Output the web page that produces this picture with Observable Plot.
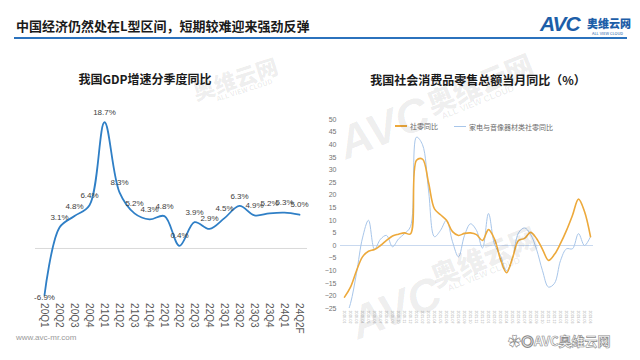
<!DOCTYPE html>
<html><head><meta charset="utf-8">
<script src="https://cdn.jsdelivr.net/npm/d3@7"></script>
<script src="https://cdn.jsdelivr.net/npm/@observablehq/plot@0.6"></script>
<style>
body{margin:0;background:#fff;font-family:"Noto Sans CJK SC","Noto Sans",sans-serif;}
#page{position:relative;width:640px;height:360px;overflow:hidden;background:#fff;}
.abs{position:absolute;white-space:nowrap;}
.wm{position:absolute;white-space:nowrap;color:rgba(0,0,0,0.075);font-weight:900;transform-origin:left top;pointer-events:none;}
</style></head><body><div id="page">
<div class="abs" style="left:16px;top:16px;font-size:13px;font-weight:700;color:#1a1a1a;">中国经济仍然处在L型区间，短期较难迎来强劲反弹</div>
<div class="abs" style="left:14px;top:37px;width:613px;height:2px;background:#2b72bd;"></div>
<div class="abs" style="left:540px;top:12px;font-family:'Liberation Sans',sans-serif;font-size:21px;font-weight:900;font-style:italic;color:#1d5ea8;letter-spacing:-1px;">AVC</div>
<div class="abs" style="left:587px;top:15px;font-size:11px;font-weight:900;color:#1d5ea8;">奥维云网</div>
<div class="abs" style="left:592px;top:30px;font-size:4px;color:#1d5ea8;">ALL VIEW CLOUD</div>

<div class="abs" style="left:0;top:70px;width:290px;text-align:center;font-size:12px;font-weight:700;color:#1a1a1a;">我国GDP增速分季度同比</div>
<div class="abs" style="left:320px;top:71px;width:316px;text-align:center;font-size:12px;font-weight:700;color:#1a1a1a;">我国社会消费品零售总额当月同比（%）</div>

<div class="abs" id="c1" style="left:0;top:95px;"></div>
<div class="abs" id="c2" style="left:320px;top:95px;"></div>

<div class="abs" id="legend" style="left:395px;top:119px;font-size:7px;color:#6b6b6b;"></div>

<div class="abs" style="left:16px;top:333px;font-size:8px;color:#9a9a9a;font-family:'Liberation Sans',sans-serif;">www.avc-mr.com</div>
<div class="abs" style="left:508px;top:331px;font-size:13px;color:#fff;-webkit-text-stroke:0.6px #8a8a8a;font-weight:700;">✿◎AVC奥维云网</div>

<div class="wm" style="left:188px;top:76px;transform:rotate(-18deg);font-size:22px;">奥维云网</div>
<div class="wm" style="left:215px;top:94px;transform:rotate(-18deg);font-size:7px;">ALL VIEW CLOUD</div>
<div class="wm" style="left:330px;top:120px;transform:rotate(-22deg);font-size:46px;font-family:'Liberation Sans',sans-serif;font-style:italic;">AVC</div>
<div class="wm" style="left:420px;top:85px;transform:rotate(-22deg);font-size:28px;">奥维云网</div>
<div class="wm" style="left:440px;top:112px;transform:rotate(-22deg);font-size:9px;font-family:'Liberation Sans',sans-serif;">ALL VIEW CLOUD</div>
<div class="wm" style="left:342px;top:300px;transform:rotate(-22deg);font-size:46px;font-family:'Liberation Sans',sans-serif;font-style:italic;">AVC</div>
<div class="wm" style="left:424px;top:258px;transform:rotate(-22deg);font-size:28px;">奥维云网</div>
<div class="wm" style="left:446px;top:284px;transform:rotate(-22deg);font-size:9px;font-family:'Liberation Sans',sans-serif;">ALL VIEW CLOUD</div>
</div>
<script>
// ---- GDP quarterly YoY ----
const gdpQuarters = ["20Q1","20Q2","20Q3","20Q4","21Q1","21Q2","21Q3","21Q4","22Q1","22Q2","22Q3","22Q4","23Q1","23Q2","23Q3","23Q4","24Q1","24Q2F"];
const gdpGrowth = [-6.9,3.1,4.8,6.4,18.7,8.3,5.2,4.3,4.8,0.4,3.9,2.9,4.5,6.3,4.9,5.2,5.3,5.0];

// ---- Retail sales monthly YoY ----
const months = [];
for (const yr of [2020, 2021, 2022, 2023]) for (let m = 1; m <= 12; m++) { if (yr === 2023 && m > 6) break; months.push(`${yr}-${String(m).padStart(2,"0")}`); }
const retailYoY = [-20.5,-16.5,-10,-4.5,-2.3,-1.6,0,2,3.8,4.5,5.0,4.6,
  33.8,34.3,25,14.5,12.2,10,5.5,4,4.8,5,4.3,2,
  6.3,2.5,-5.5,-10.8,-5,2,2.8,5.2,2.8,-1.5,-5.9,-3.5,
  0.8,6,12,18.4,13.5,3.5];
const applianceYoY = [-30,-23,-11,3,10,-1.5,2.5,4,-0.5,2.6,4.7,7.5,
  43,40,22,3.5,6,10,1.5,-4.5,4,8.6,6,-1,
  12.7,0.5,-4,-10,-5,5,7,4.5,-1.5,-10,-16.5,-15,
  -6,-1.3,-1.3,4.7,0,3.5];
const yTicks = [50,45,40,35,30,25,20,15,10,5,0,-5,-10,-15,-20,-25];
const seriesNames = ["社零同比","家电与音像器材类社零同比"];
const seriesColors = ["#eda93b","#a8c6ea"];

const gdp = gdpQuarters.map((q,i)=>({q, v: gdpGrowth[i]}));
const fontNum = "'Liberation Sans','Noto Sans CJK SC',sans-serif";

const c1 = Plot.plot({
  width: 320, height: 250,
  marginLeft: 35, marginRight: 13, marginTop: 18, marginBottom: 46.4,
  style: {fontFamily: fontNum, color: "#595959", background: "transparent", overflow: "visible"},
  x: {type: "point", domain: gdpQuarters, padding: 0.5, label: null, tickRotate: 90, tickSize: 0, tickPadding: 4, fontSize: 8},
  y: {domain: [-7.5, 20], axis: null},
  marks: [
    Plot.ruleY([0], {stroke: "#d9d9d9"}),
    Plot.line(gdp, {x: "q", y: "v", stroke: "#2f7fc6", strokeWidth: 1.8, curve: "catmull-rom"}),
    Plot.text(gdp.filter(d => d.v >= 0), {x: "q", y: "v", text: d => d.v.toFixed(1) + "%", dy: -10, fontSize: 8, fill: "#404040"}),
    Plot.text(gdp.filter(d => d.v < 0), {x: "q", y: "v", text: d => d.v.toFixed(1) + "%", dy: 2, fontSize: 8, fill: "#404040"})
  ]
});
document.getElementById("c1").append(c1);

const rows = [];
months.forEach((m,i)=>{ rows.push({m, v: retailYoY[i], s: seriesNames[0]}); rows.push({m, v: applianceYoY[i], s: seriesNames[1]}); });

const c2 = Plot.plot({
  width: 320, height: 250,
  marginLeft: 20, marginRight: 47, marginTop: 24, marginBottom: 37,
  style: {fontFamily: fontNum, color: "#666", background: "transparent", overflow: "visible"},
  x: {type: "point", domain: months, padding: 0.5, label: null},
  y: {domain: [-25, 50], label: null},
  marks: [
    Plot.axisX({tickRotate: 90, tickSize: 0, tickPadding: 2, fontSize: 3.5, fill: "#a6a6a6", label: null}),
    Plot.axisY(yTicks, {tickSize: 0, tickPadding: 4, fontSize: 7, fill: "#737373", label: null}),
    Plot.ruleY([0], {stroke: "#c9d9ef"}),
    Plot.line(rows.filter(r => r.s === seriesNames[1]), {x: "m", y: "v", stroke: seriesColors[1], strokeWidth: 1, curve: "catmull-rom", clip: true}),
    Plot.line(rows.filter(r => r.s === seriesNames[0]), {x: "m", y: "v", stroke: seriesColors[0], strokeWidth: 1.6, curve: "catmull-rom", clip: true})
  ]
});
document.getElementById("c2").append(c2);

// legend
const lg = document.getElementById("legend");
lg.innerHTML = seriesNames.map((n,i)=>`<span style="display:inline-flex;align-items:center;margin-right:${i===0?16:0}px;"><span style="display:inline-block;width:12px;height:${i===0?1.6:1}px;background:${seriesColors[i]};margin-right:3px;"></span>${n}</span>`).join("");
</script>
</body></html>
